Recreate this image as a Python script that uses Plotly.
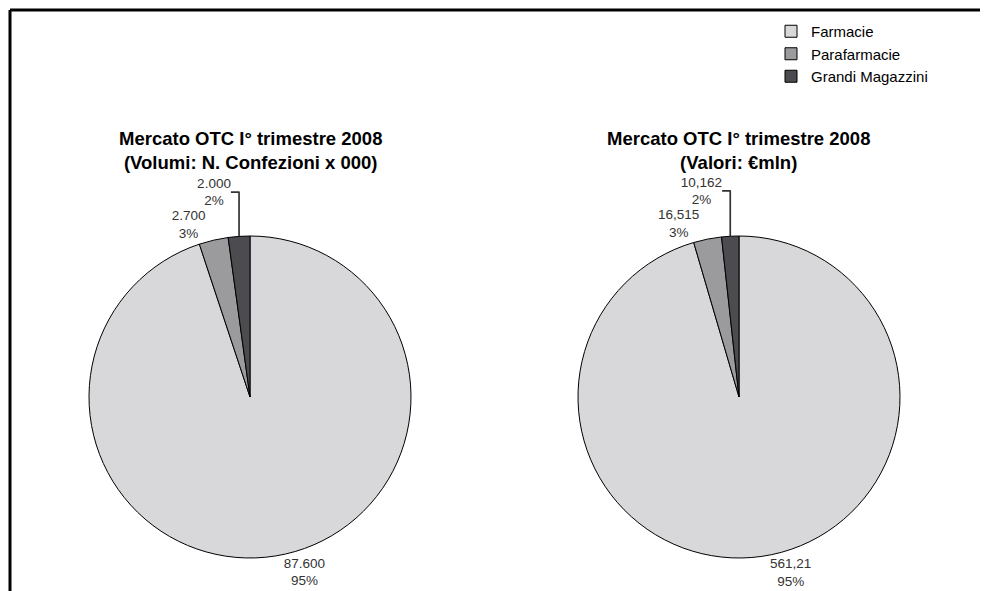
import plotly.graph_objects as go

categories = ["Farmacie", "Parafarmacie", "Grandi Magazzini"]
volumi = [87600, 2700, 2000]
volumi_text = ["87.600", "2.700", "2.000"]
valori = [561.21, 16.515, 10.162]
valori_text = ["561,21", "16,515", "10,162"]
colors = ["#d8d8da", "#9b9b9e", "#4b4b50"]
title_left = "Mercato OTC I° trimestre 2008<br>(Volumi: N. Confezioni x 000)"
title_right = "Mercato OTC I° trimestre 2008<br>(Valori: €mln)"

W, H = 988, 591
OFF = 8  # default page body margin
R = 161
cx_left, cx_right, cy = 250 - OFF, 739 - OFF, 397 - OFF
FONT = "Liberation Sans, Arial, Helvetica, sans-serif"


def dom(cx):
    return dict(x=[(cx - R) / W, (cx + R) / W],
                y=[(H - cy - R) / H, (H - cy + R) / H])


common = dict(
    sort=False,
    direction="clockwise",
    rotation=0,
    textposition="outside",
    texttemplate="%{text}<br>%{percent:.0%}",
    textfont=dict(size=13.5, color="#333333", family=FONT),
    marker=dict(colors=colors, line=dict(color="#000000", width=1)),
    hoverinfo="label+value+percent",
)

fig = go.Figure()
fig.add_trace(go.Pie(labels=categories, values=volumi, text=volumi_text,
                     domain=dom(cx_left), **common))
fig.add_trace(go.Pie(labels=categories, values=valori, text=valori_text,
                     domain=dom(cx_right), showlegend=False, **common))

for x, t in [(cx_left, title_left), (738 - OFF, title_right)]:
    fig.add_annotation(x=x / W, y=1 - (126 - OFF) / H, xref="paper", yref="paper",
                       text="<b>" + t + "</b>", showarrow=False,
                       xanchor="center", yanchor="top",
                       font=dict(size=18.5, color="#000000", family=FONT))

# frame (top and left border)
fl = (10 - OFF)
fig.add_shape(type="line", xref="paper", yref="paper",
              x0=fl / W, x1=1.05, y0=1 - fl / H, y1=1 - fl / H,
              line=dict(color="#000000", width=3))
fig.add_shape(type="line", xref="paper", yref="paper",
              x0=fl / W, x1=fl / W, y0=-0.05, y1=1 - fl / H,
              line=dict(color="#000000", width=3))

fig.update_layout(
    width=W, height=H,
    margin=dict(l=0, r=0, t=0, b=0),
    paper_bgcolor="#ffffff",
    plot_bgcolor="#ffffff",
    font=dict(family=FONT, color="#000000"),
    legend=dict(x=(771 - OFF) / W, y=1 - (15 - OFF) / H, xanchor="left", yanchor="top",
                font=dict(size=15, color="#000000"),
                bgcolor="rgba(0,0,0,0)", tracegroupgap=0,
                itemwidth=30),
)

fig.write_html("out.html")
